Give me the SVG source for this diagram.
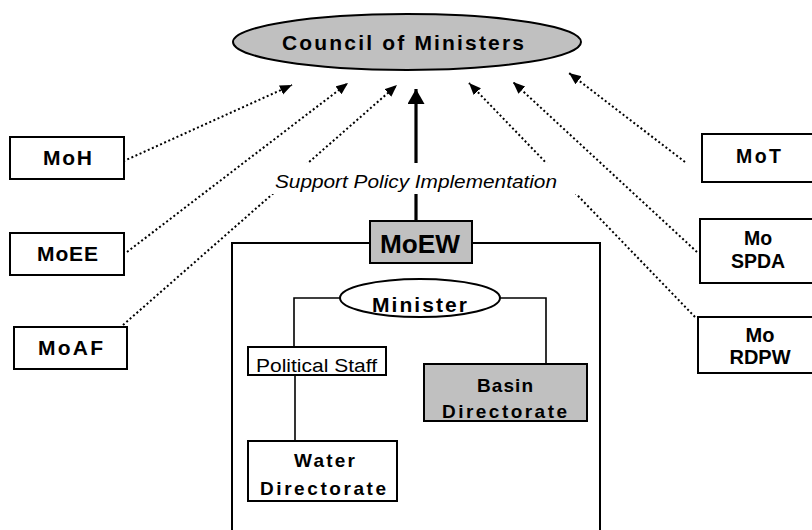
<svg xmlns="http://www.w3.org/2000/svg" width="812" height="530" viewBox="0 0 812 530">
  <style>
    .box { fill: #ffffff; stroke: #000000; stroke-width: 2; }
    .grey { fill: #c0c0c0; stroke: #000000; stroke-width: 2; }
    .lbl { font-family: "Liberation Sans", Arial, sans-serif; font-weight: bold; fill: #000000; }
    .plain { font-family: "Liberation Sans", Arial, sans-serif; fill: #000000; }
    .dot { fill: none; stroke: #000000; stroke-width: 2; stroke-dasharray: 2 2.5; }
    .tree { fill: none; stroke: #000000; stroke-width: 1.6; }
  </style>
  <defs>
    <marker id="head" markerUnits="userSpaceOnUse" markerWidth="14" markerHeight="12" refX="12" refY="5" orient="auto">
      <path d="M0,0 L12,5 L0,10 z" fill="#000000"/>
    </marker>
    <marker id="bighead" markerUnits="userSpaceOnUse" markerWidth="16" markerHeight="18" refX="15" refY="8.5" orient="auto">
      <path d="M0,0 L15,8.5 L0,17 z" fill="#000000"/>
    </marker>
  </defs>

  <rect width="812" height="530" fill="#ffffff"/>

  <!-- connectors -->
  <g id="connectors">
    <line class="dot" x1="115" y1="165" x2="292" y2="85" marker-end="url(#head)"/>
    <line class="dot" x1="127" y1="252" x2="348" y2="83" marker-end="url(#head)"/>
    <line class="dot" x1="123" y1="325" x2="397" y2="85" marker-end="url(#head)"/>
    <line class="dot" x1="685" y1="162" x2="569" y2="73" marker-end="url(#head)"/>
    <line class="dot" x1="697" y1="252" x2="513" y2="82" marker-end="url(#head)"/>
    <line class="dot" x1="695" y1="317" x2="469" y2="83" marker-end="url(#head)"/>
    <line x1="416" y1="221" x2="416" y2="89" stroke="#000000" stroke-width="3.2" marker-end="url(#bighead)"/>
    <!-- ministry frame hanging from MoEW -->
    <path class="box" style="fill:none" d="M370,243 H232 V535 M472,243 H600 V535"/>
    <!-- internal organisation -->
    <path class="tree" d="M340,298 H294 V347"/>
    <path class="tree" d="M499,298 H546 V364"/>
    <path class="tree" d="M295,375 V441"/>
  </g>

  <!-- label on the central arrow -->
  <g id="support-label">
    <rect x="268" y="163" width="310" height="31" fill="#ffffff"/>
    <text class="plain" x="275" y="188" font-size="18" font-style="italic" textLength="282" lengthAdjust="spacingAndGlyphs">Support Policy Implementation</text>
  </g>

  <g id="council">
    <ellipse class="grey" cx="407" cy="42" rx="174" ry="28"/>
    <text class="lbl" x="282" y="50" font-size="21" textLength="242" lengthAdjust="spacing">Council of Ministers</text>
  </g>

  <g id="moh">
    <rect class="box" x="10" y="137" width="114" height="42"/>
    <text class="lbl" x="43" y="165" font-size="21" textLength="49" lengthAdjust="spacing">MoH</text>
  </g>
  <g id="moee">
    <rect class="box" x="10" y="233" width="114" height="42"/>
    <text class="lbl" x="37" y="261" font-size="21" textLength="61" lengthAdjust="spacing">MoEE</text>
  </g>
  <g id="moaf">
    <rect class="box" x="14" y="327" width="113" height="42"/>
    <text class="lbl" x="38" y="355" font-size="21" textLength="65" lengthAdjust="spacing">MoAF</text>
  </g>

  <g id="mot">
    <rect class="box" x="702" y="134" width="120" height="48"/>
    <text class="lbl" x="736" y="163" font-size="19.5" textLength="45" lengthAdjust="spacing">MoT</text>
  </g>
  <g id="mospda">
    <rect class="box" x="700" y="219" width="122" height="64"/>
    <text class="lbl" x="758" y="245" font-size="19.5" text-anchor="middle">Mo</text>
    <text class="lbl" x="758" y="268" font-size="19.5" text-anchor="middle">SPDA</text>
  </g>
  <g id="mordpw">
    <rect class="box" x="698" y="317" width="124" height="56"/>
    <text class="lbl" x="760" y="342" font-size="20" text-anchor="middle">Mo</text>
    <text class="lbl" x="760" y="364" font-size="20" text-anchor="middle">RDPW</text>
  </g>

  <g id="moew">
    <rect class="grey" x="370" y="221" width="102" height="42"/>
    <text class="lbl" x="380" y="253" font-size="26" textLength="80" lengthAdjust="spacingAndGlyphs">MoEW</text>
  </g>

  <g id="minister">
    <ellipse class="box" cx="420" cy="298" rx="80" ry="19"/>
    <text class="lbl" x="372" y="312" font-size="21" textLength="95" lengthAdjust="spacing">Minister</text>
  </g>

  <g id="political-staff">
    <rect class="box" x="248" y="347" width="138" height="28" stroke-width="1.6"/>
    <text class="plain" x="256" y="372" font-size="18" textLength="121" lengthAdjust="spacingAndGlyphs">Political Staff</text>
  </g>

  <g id="basin-directorate">
    <rect class="grey" x="424" y="364" width="163" height="57"/>
    <text class="lbl" x="477" y="392" font-size="19" textLength="56" lengthAdjust="spacing">Basin</text>
    <text class="lbl" x="442" y="418" font-size="19" textLength="125" lengthAdjust="spacing">Directorate</text>
  </g>

  <g id="water-directorate">
    <rect class="box" x="248" y="441" width="149" height="60"/>
    <text class="lbl" x="294" y="467" font-size="19" textLength="61" lengthAdjust="spacing">Water</text>
    <text class="lbl" x="260" y="495" font-size="19" textLength="126" lengthAdjust="spacing">Directorate</text>
  </g>
</svg>
